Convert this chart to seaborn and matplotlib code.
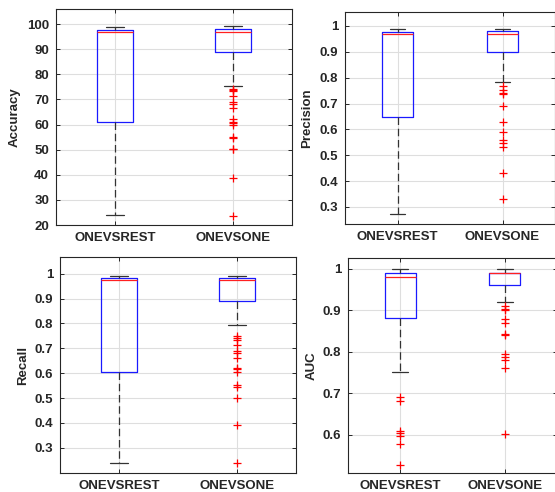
import numpy as np
import pandas as pd
import matplotlib
matplotlib.use("Agg")
import matplotlib.pyplot as plt
import seaborn as sns

# ---- data (box statistics per method) ----
methods = ["ONEVSREST", "ONEVSONE"]

acc_q1 = [60.9, 88.7]
acc_med = [96.7, 96.7]
acc_q3 = [97.6, 98.0]
acc_lo = [23.9, 75.2]
acc_hi = [98.9, 99.1]
acc_out_rest = []
acc_out_one = [74.0, 73.6, 73.2, 71.3, 68.8, 68.0, 66.4, 62.1, 61.0, 60.5,
               60.0, 55.1, 54.5, 50.4, 50.1, 38.8, 23.7]

prec_q1 = [0.649, 0.900]
prec_med = [0.970, 0.970]
prec_q3 = [0.978, 0.980]
prec_lo = [0.271, 0.782]
prec_hi = [0.990, 0.990]
prec_out_rest = []
prec_out_one = [0.768, 0.753, 0.742, 0.737, 0.691, 0.630, 0.591, 0.559,
                0.549, 0.531, 0.430, 0.331]

rec_q1 = [0.606, 0.891]
rec_med = [0.973, 0.973]
rec_q3 = [0.981, 0.981]
rec_lo = [0.240, 0.792]
rec_hi = [0.992, 0.992]
rec_out_rest = []
rec_out_one = [0.750, 0.742, 0.733, 0.713, 0.690, 0.682, 0.662, 0.622,
               0.615, 0.606, 0.552, 0.543, 0.501, 0.391, 0.240]

auc_q1 = [0.882, 0.961]
auc_med = [0.980, 0.990]
auc_q3 = [0.990, 0.990]
auc_lo = [0.751, 0.920]
auc_hi = [1.000, 1.000]
auc_out_rest = [0.692, 0.682, 0.610, 0.604, 0.598, 0.577, 0.528]
auc_out_one = [0.910, 0.904, 0.900, 0.880, 0.870, 0.842, 0.840, 0.794,
               0.788, 0.780, 0.760, 0.602]

acc_ticks = [20, 30, 40, 50, 60, 70, 80, 90, 100]
acc_ticklabels = ["20", "30", "40", "50", "60", "70", "80", "90", "100"]
frac_ticks = [0.3, 0.4, 0.5, 0.6, 0.7, 0.8, 0.9, 1.0]
frac_ticklabels = ["0.3", "0.4", "0.5", "0.6", "0.7", "0.8", "0.9", "1"]
auc_ticks = [0.6, 0.7, 0.8, 0.9, 1.0]
auc_ticklabels = ["0.6", "0.7", "0.8", "0.9", "1"]


def rebuild(q1, med, q3, lo, hi, outliers, m=40):
    """Sample whose quartiles / whiskers / fliers equal the read statistics."""
    low = sorted(outliers) + [lo]
    vals = low + [q1] * (2 * m - len(low)) + [med] * m + [q3] * m + [hi]
    return vals


def panel_df(q1, med, q3, lo, hi, outs):
    rows = []
    for i, name in enumerate(methods):
        for v in rebuild(q1[i], med[i], q3[i], lo[i], hi[i], outs[i]):
            rows.append((name, v))
    return pd.DataFrame(rows, columns=["method", "value"])


sns.set_theme(style="ticks")
plt.rcParams["font.family"] = ["Liberation Sans", "DejaVu Sans"]
plt.rcParams["font.weight"] = "bold"

fig = plt.figure(figsize=(5.55, 4.92), dpi=100)
W, H = 555.0, 492.0


def add_ax(l, t, r, b):
    return fig.add_axes([l / W, 1 - b / H, (r - l) / W, (b - t) / H])


panels = [
    (add_ax(56, 9, 292, 225), panel_df(acc_q1, acc_med, acc_q3, acc_lo, acc_hi,
                                       [acc_out_rest, acc_out_one]),
     "Accuracy", (20, 106), acc_ticks, acc_ticklabels, -0.150),
    (add_ax(345, 12, 555, 224), panel_df(prec_q1, prec_med, prec_q3, prec_lo, prec_hi,
                                         [prec_out_rest, prec_out_one]),
     "Precision", (0.234, 1.054), frac_ticks, frac_ticklabels, -0.150),
    (add_ax(60, 257, 296, 473), panel_df(rec_q1, rec_med, rec_q3, rec_lo, rec_hi,
                                         [rec_out_rest, rec_out_one]),
     "Recall", (0.199, 1.067), frac_ticks, frac_ticklabels, -0.130),
    (add_ax(348, 258, 557, 473), panel_df(auc_q1, auc_med, auc_q3, auc_lo, auc_hi,
                                          [auc_out_rest, auc_out_one]),
     "AUC", (0.508, 1.026), auc_ticks, auc_ticklabels, -0.146),
]

for ax, df, label, ylim, ticks, tlabels, lx in panels:
    sns.boxplot(
        data=df, x="method", y="value", order=methods, ax=ax,
        width=0.3, fill=False, color="#1a1aff", linewidth=0.9, whis=1.5,
        boxprops=dict(color="#1a1aff"),
        medianprops=dict(color="#ff2020"),
        whiskerprops=dict(color="#333333", linestyle=(0, (6, 3))),
        capprops=dict(color="#333333"),
        flierprops=dict(marker="+", markeredgecolor="red", markersize=6,
                        markeredgewidth=0.9),
    )
    ax.set_xlim(-0.5, 1.5)
    ax.set_ylim(*ylim)
    ax.set_yticks(ticks)
    ax.set_yticklabels(tlabels)
    ax.set_xlabel("")
    ax.set_ylabel(label, fontsize=9.5, fontweight="bold", color="#262626")
    ax.yaxis.set_label_coords(lx, 0.5)
    ax.grid(True, color="#dedede", linewidth=0.8)
    ax.set_axisbelow(True)
    for s in ax.spines.values():
        s.set_visible(True)
        s.set_color("#262626")
        s.set_linewidth(0.8)
    ax.tick_params(axis="both", direction="in", length=3, width=0.7,
                   color="#262626", labelcolor="#262626", labelsize=9.5,
                   top=True, right=True, pad=5)
    for t in ax.get_xticklabels() + ax.get_yticklabels():
        t.set_fontweight("bold")
    ax.set_facecolor("white")

fig.savefig("out.png", dpi=100, facecolor="white")
